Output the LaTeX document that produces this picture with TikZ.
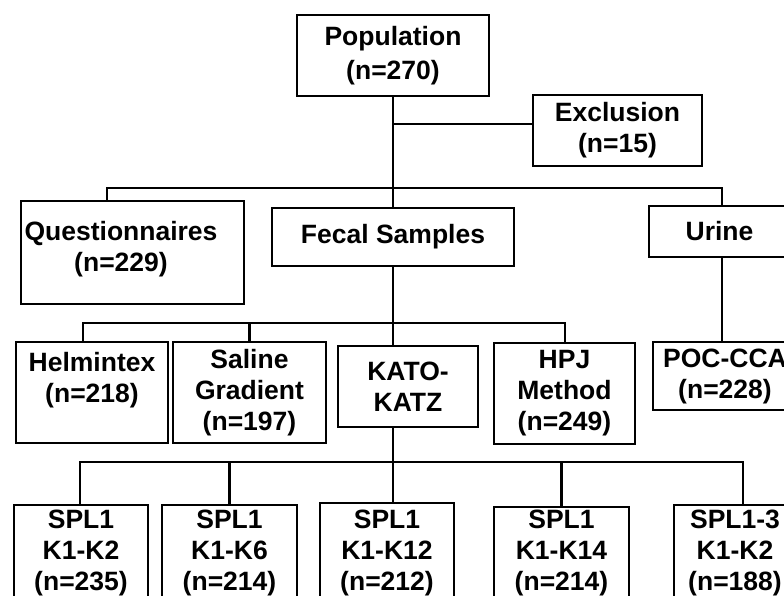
\documentclass[tikz,border=0pt]{standalone}
\usepackage{fontspec}
\setmainfont{Liberation Sans}
\usetikzlibrary{positioning}

\begin{document}
\begin{tikzpicture}[
            x=1pt, y=-1pt,
            box/.style={rectangle, draw=black, line width=2.2pt, inner sep=0pt, align=center,
                        font=\fontsize{26.5}{31}\selectfont\bfseries},
            txt/.style={inner sep=0pt, align=center, font=\fontsize{26.5}{31}\selectfont\bfseries},
            edge/.style={line width=2.2pt, black}
        ]

        % Page frame (the figure is cut at the right and bottom)
        \useasboundingbox (0,0) rectangle (784,595);
        \clip (0,0) rectangle (784,595);

        % Top level
        \node[box, minimum width=192, minimum height=81] (pop) at (393,55.5) {Population\\[3pt](n=270)};
        \node[box, minimum width=169, minimum height=71] (excl) at (617.5,130.5) {Exclusion\\(n=15)};

        % Second level
        \node[box, minimum width=223, minimum height=103] (quest) at (132.5,252.5) {};
        \node[txt] (questlbl) at (121,249) {Questionnaires\\(n=229)};
        \node[box, minimum width=242, minimum height=58] (fecal) at (393,237) {Fecal Samples};
        \node[box, minimum width=141, minimum height=51] (urine) at (719.5,231.5) {Urine};

        % Methods
        \node[box, minimum width=152, minimum height=101] (helm) at (92,392.5) {Helmintex\\(n=218)\\~};
        \node[box, minimum width=153, minimum height=101] (saline) at (249.5,392.5) {Saline\\Gradient\\(n=197)};
        \node[box, minimum width=140, minimum height=81] (kato) at (408,386.5) {KATO-\\KATZ};
        \node[box, minimum width=141, minimum height=101] (hpj) at (564.5,393.5) {HPJ\\Method\\(n=249)};
        \node[box, minimum width=144, minimum height=68] (poc) at (725,376) {POC-CCA\\(n=228)};

        % Kato-Katz slides
        \node[box, minimum width=134, minimum height=96] (spla) at (81,553) {SPL1\\K1-K2\\(n=235)};
        \node[box, minimum width=135, minimum height=96] (splb) at (229.5,553) {SPL1\\K1-K6\\(n=214)};
        \node[box, minimum width=134, minimum height=100] (splc) at (387,553) {SPL1\\K1-K12\\(n=212)};
        \node[box, minimum width=135, minimum height=92] (spld) at (561.5,553) {SPL1\\K1-K14\\(n=214)};
        \node[box, minimum width=122, minimum height=96] (sple) at (735,553) {SPL1-3\\K1-K2\\(n=188)};

        % Bar joints
        \coordinate (exclbr) at (393,124);
        \coordinate (bara) at (107,188);
        \coordinate (barb) at (722,188);
        \coordinate (barc) at (83,323);
        \coordinate (bard) at (565,323);
        \coordinate (bare) at (80,462);
        \coordinate (barf) at (743,462);

        % Population to groups
        \draw[edge] (pop.south) -- (fecal.north);
        \draw[edge] (exclbr) -- (exclbr -| excl.west);
        \draw[edge] (bara |- quest.north) -- (bara) -- (barb) -- (barb |- urine.north);

        % Fecal samples to methods
        \draw[edge] (fecal.south) -- (fecal.south |- kato.north);
        \draw[edge] (barc |- helm.north) -- (barc) -- (bard) -- (bard |- hpj.north);
        \draw[edge] (saline.north) -- (saline.north |- barc);

        % Urine to POC-CCA
        \draw[edge] (barb |- urine.south) -- (barb |- poc.north);

        % Kato-Katz to slides
        \draw[edge] (fecal.south |- kato.south) -- (fecal.south |- splc.north);
        \draw[edge] (bare |- spla.north) -- (bare) -- (barf) -- (barf |- sple.north);
        \draw[edge] (splb.north) -- (splb.north |- bare);
        \draw[edge] (spld.north) -- (spld.north |- bare);

    \end{tikzpicture}
\end{document}
